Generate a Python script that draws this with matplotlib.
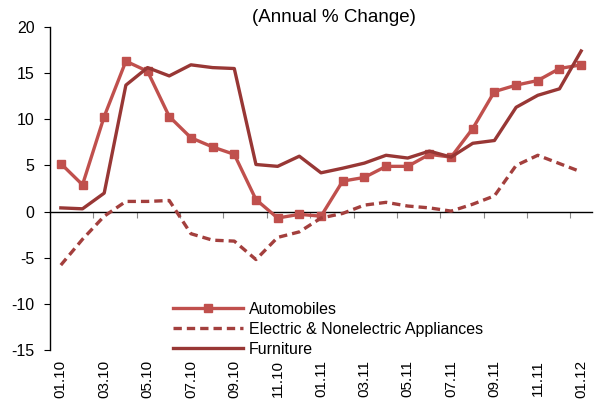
import matplotlib.pyplot as plt

plt.rcParams['font.family'] = ['Liberation Sans', 'DejaVu Sans']
plt.rcParams['axes.unicode_minus'] = False

months = ["01.10", "02.10", "03.10", "04.10", "05.10", "06.10", "07.10", "08.10",
          "09.10", "10.10", "11.10", "12.10", "01.11", "02.11", "03.11", "04.11",
          "05.11", "06.11", "07.11", "08.11", "09.11", "10.11", "11.11", "12.11",
          "01.12"]

automobiles = [5.2, 2.9, 10.3, 16.3, 15.2, 10.3, 8.0, 7.0, 6.2, 1.3, -0.7, -0.3,
               -0.5, 3.3, 3.7, 4.9, 4.9, 6.2, 5.9, 9.0, 13.0, 13.7, 14.2, 15.5, 15.9]
appliances = [-5.8, -3.0, -0.5, 1.1, 1.1, 1.2, -2.4, -3.1, -3.2, -5.2, -2.8, -2.2,
              -0.7, -0.2, 0.7, 1.0, 0.6, 0.4, 0.05, 0.8, 1.7, 5.0, 6.1, 5.2, 4.3]
furniture = [0.4, 0.3, 2.0, 13.7, 15.6, 14.7, 15.9, 15.6, 15.5, 5.1, 4.9, 6.0,
             4.2, 4.7, 5.25, 6.1, 5.8, 6.55, 5.9, 7.4, 7.7, 11.3, 12.6, 13.3, 17.4]

x = list(range(len(months)))

fig = plt.figure(figsize=(5.99, 4.05), dpi=100)
ax = fig.add_axes([50 / 599, 1 - 350 / 405, 542 / 599, 323 / 405])

ax.plot(x, automobiles, color="#C0504D", lw=2.4, marker="s", ms=6,
        label="Automobiles")
ax.plot(x, appliances, color="#A33F3D", lw=2.4, ls=(0, (2.5, 1.5)),
        label="Electric & Nonelectric Appliances")
ax.plot(x, furniture, color="#983735", lw=2.4, label="Furniture")

ax.set_xlim(-0.5, len(months) - 0.5)
ax.set_ylim(-15, 20)
ax.set_yticks(range(-15, 21, 5))
ax.set_xticks(x[::2])
ax.set_xticklabels(months[::2], rotation=90)
ax.tick_params(axis="x", length=0, pad=7, labelsize=11)
ax.tick_params(axis="y", length=4, width=0.8, labelsize=11.5, pad=7)

for s in ["top", "right", "bottom"]:
    ax.spines[s].set_visible(False)
ax.spines["left"].set_linewidth(1)

# zero line with category-boundary ticks
sec = ax.secondary_xaxis(15 / 35)
sec.set_xticks([i + 0.5 for i in x[1:-1:2]])
sec.set_xticklabels([])
sec.tick_params(length=4, width=0.8, color="#888888")
sec.spines["bottom"].set_linewidth(1)

ax.legend(loc="lower left", bbox_to_anchor=(0.2, -0.065), frameon=False,
          fontsize=11.5, handlelength=4.4, handletextpad=0.35, labelspacing=0.3)

fig.text(334 / 599, 1 - 17 / 405, "(Annual % Change)", ha="center", va="center",
         fontsize=13.5)

fig.savefig("out.png", dpi=100)
